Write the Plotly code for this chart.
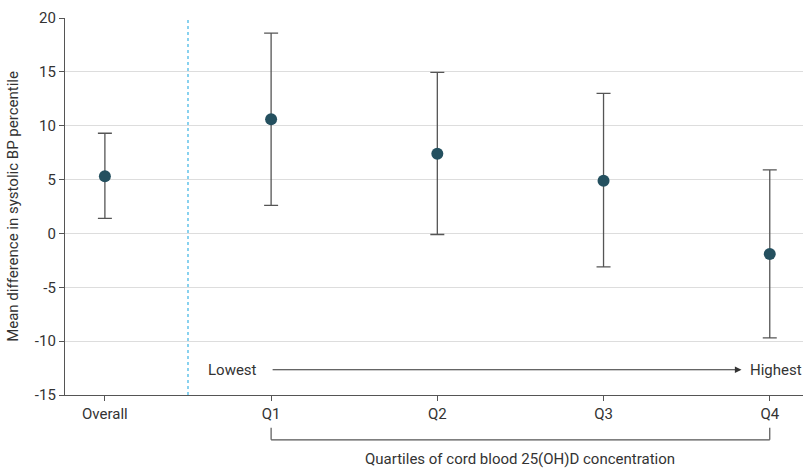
import plotly.graph_objects as go

categories = ["Overall", "Q1", "Q2", "Q3", "Q4"]
means = [5.3, 10.6, 7.4, 4.9, -1.9]
lower = [1.4, 2.6, -0.1, -3.1, -9.7]
upper = [9.3, 18.6, 14.95, 13.0, 5.9]
y_ticks = [20, 15, 10, 5, 0, -5, -10, -15]
y_tick_labels = ["20", "15", "10", "5", "0", "-5", "-10", "-15"]

FONT = "Roboto, sans-serif"
xs = list(range(len(categories)))

fig = go.Figure()
fig.add_trace(go.Scatter(
    x=xs, y=means, mode="markers",
    marker=dict(size=12, color="#24505f"),
    error_y=dict(type="data", symmetric=False,
                 array=[u - m for u, m in zip(upper, means)],
                 arrayminus=[m - l for m, l in zip(means, lower)],
                 color="#555555", thickness=1.3, width=7),
    showlegend=False, hoverinfo="skip"))

fig.update_layout(
    width=803, height=468,
    margin=dict(l=65, r=0, t=18, b=73),
    plot_bgcolor="white", paper_bgcolor="white",
    font=dict(family=FONT, size=15, color="#333333"),
    xaxis=dict(range=[-0.24, 4.2], tickvals=xs, ticktext=categories,
               showgrid=False, zeroline=False, showline=True,
               linecolor="#555555", linewidth=1.3,
               ticks="outside", ticklen=5, tickcolor="#555555"),
    yaxis=dict(range=[-15, 20], tickvals=y_ticks, ticktext=y_tick_labels,
               showgrid=True, gridcolor="#dddddd", gridwidth=1,
               zeroline=False, showline=True, linecolor="#555555", linewidth=1.3,
               ticks="outside", ticklen=5, tickcolor="#555555",
               title=dict(text="Mean difference in systolic BP percentile",
                          font=dict(size=15), standoff=12)),
)

# dotted separator
fig.add_shape(type="line", xref="x", yref="paper", x0=0.5, x1=0.5, y0=0, y1=1,
              line=dict(color="#3bb4e5", width=1.2, dash="dot"))

# Lowest -> Highest arrow
fig.add_annotation(x=3.83, y=-12.65, ax=1.0, ay=-12.65, xref="x", yref="y",
                   axref="x", ayref="y", text="", showarrow=True,
                   arrowhead=2, arrowsize=1.2, arrowwidth=1.1, arrowcolor="#333333")
fig.add_annotation(x=0.765, y=-12.65, xref="x", yref="y", text="Lowest",
                   showarrow=False, font=dict(size=15, color="#333333"))
fig.add_annotation(x=4.035, y=-12.65, xref="x", yref="y", text="Highest",
                   showarrow=False, font=dict(size=15, color="#333333"))

# bracket
for x0, y0, x1, y1 in [(1, -0.087, 1, -0.119), (4, -0.087, 4, -0.119), (1, -0.119, 4, -0.119)]:
    fig.add_shape(type="line", xref="x", yref="paper", x0=x0, x1=x1, y0=y0, y1=y1,
                  line=dict(color="#555555", width=1.2))
fig.add_annotation(x=2.5, y=-0.17, xref="x", yref="paper", yanchor="middle",
                   text="Quartiles of cord blood 25(OH)D concentration",
                   showarrow=False, font=dict(size=15, color="#333333"))

fig.write_html("out.html", config={"displayModeBar": False},
               post_script="document.body.style.margin='0';")
